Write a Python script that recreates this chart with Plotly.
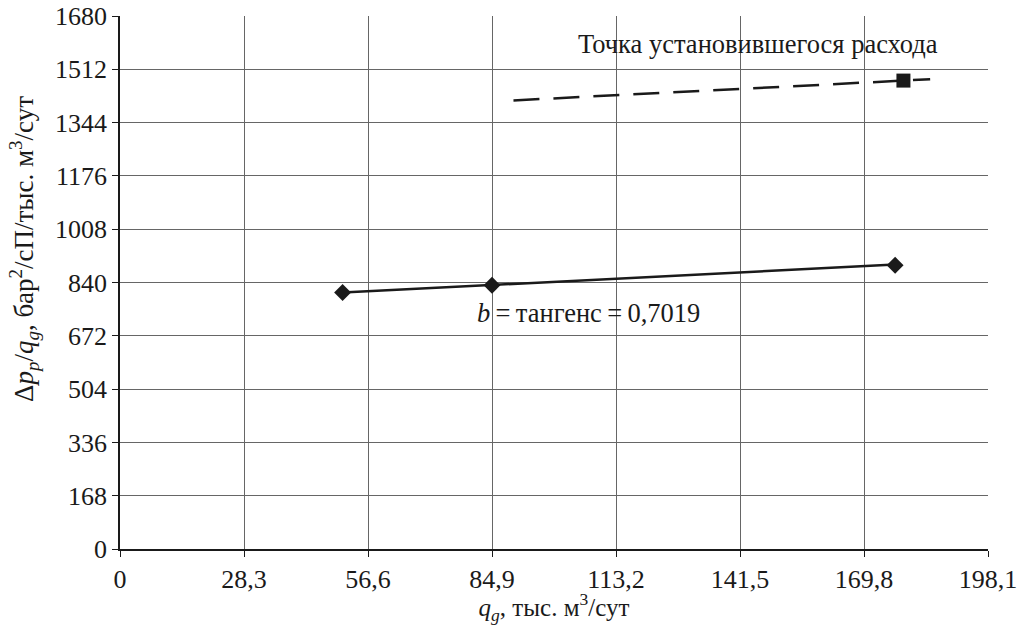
import plotly.graph_objects as go

# Test points: gas rate vs. normalised pressure drop
q_test = [50.8, 84.9, 176.9]
dp_over_q = [808.5, 831.5, 894.5]

# Stabilised-flow point
q_stab = [178.8]
dp_stab = [1476.4]

# Trend slope and intercept
slope_b = 0.7019
intercept_a = 772.5

# Extent of the stabilised-flow line
q_stab_line = [89.8, 184.9]

x_ticks = [0, 28.3, 56.6, 84.9, 113.2, 141.5, 169.8, 198.1]
x_tick_text = ["0", "28,3", "56,6", "84,9", "113,2", "141,5", "169,8", "198,1"]
y_ticks = [0, 168, 336, 504, 672, 840, 1008, 1176, 1344, 1512, 1680]
y_tick_text = [str(v) for v in y_ticks]

FONT = "Liberation Serif"
INK = "#1a1a1a"
FS_TICK = 26
FS_TEXT = 26.5
FS_XTITLE = 25
FS_YTITLE = 27

fig = go.Figure()

# Solid trend through the test points
trend_x = [q_test[0], q_test[-1]]
trend_y = [intercept_a + slope_b * x for x in trend_x]
fig.add_trace(go.Scatter(x=trend_x, y=trend_y, mode="lines",
                         line=dict(color=INK, width=2.5), showlegend=False))
fig.add_trace(go.Scatter(x=q_test, y=dp_over_q, mode="markers",
                         marker=dict(symbol="diamond", size=13, color=INK),
                         showlegend=False))

# Dashed parallel line through the stabilised point
dash_y = [dp_stab[0] + slope_b * (x - q_stab[0]) for x in q_stab_line]
fig.add_trace(go.Scatter(x=q_stab_line, y=dash_y, mode="lines",
                         line=dict(color=INK, width=2.5, dash="26px,14px"),
                         showlegend=False))
fig.add_trace(go.Scatter(x=q_stab, y=dp_stab, mode="markers",
                         marker=dict(symbol="square", size=14, color=INK),
                         showlegend=False))

fig.add_annotation(x=0.735, y=0.9475, xref="paper", yref="paper",
                   xanchor="center", yanchor="middle",
                   text="Точка установившегося расхода", showarrow=False,
                   font=dict(family=FONT, size=FS_TEXT, color=INK))
fig.add_annotation(x=106.9, y=744, xref="x", yref="y",
                   xanchor="center", yanchor="middle",
                   text="<i>b</i>\u2009=\u2009тангенс\u2009=\u20090,7019", showarrow=False,
                   font=dict(family=FONT, size=FS_TEXT, color=INK))

# Vertical axis title
fig.add_annotation(x=-0.1106, y=0.563, xref="paper", yref="paper",
                   xanchor="center", yanchor="middle", textangle=-90,
                   text="Δ<i>p<sub>p</sub></i>/<i>q<sub>g</sub></i>, бар<sup>2</sup>/сП/тыс. м<sup>3</sup>/сут",
                   showarrow=False,
                   font=dict(family=FONT, size=FS_YTITLE, color=INK))

fig.update_layout(
    width=1024, height=625,
    margin=dict(l=120, r=36, t=16, b=76),
    font=dict(family=FONT, size=FS_TICK, color=INK),
    plot_bgcolor="white", paper_bgcolor="white",
    xaxis=dict(range=[0, 198.1], tickmode="array", tickvals=x_ticks, ticktext=x_tick_text,
               showgrid=True, gridcolor="#666", gridwidth=1,
               showline=True, linecolor=INK, linewidth=1.5,
               ticks="outside", ticklen=6, tickcolor=INK,
               zeroline=False, automargin=False,
               tickfont=dict(family=FONT, size=FS_TICK, color=INK),
               title=dict(text="<i>q<sub>g</sub></i>, тыс. м<sup>3</sup>/сут",
                          font=dict(family=FONT, size=FS_XTITLE, color=INK),
                          standoff=6)),
    yaxis=dict(range=[0, 1680], tickmode="array", tickvals=y_ticks, ticktext=y_tick_text,
               showgrid=True, gridcolor="#666", gridwidth=1,
               showline=True, linecolor=INK, linewidth=1.5,
               ticks="outside", ticklen=6, tickcolor=INK,
               zeroline=False, automargin=False,
               tickfont=dict(family=FONT, size=FS_TICK, color=INK)),
)

fig.write_html("out.html")
